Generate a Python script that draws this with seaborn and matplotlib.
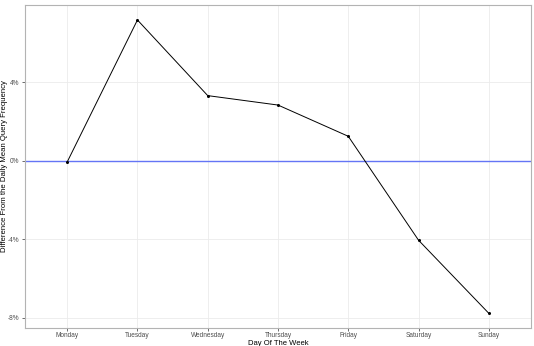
import matplotlib
matplotlib.use("Agg")
import matplotlib.pyplot as plt
import seaborn as sns
import pandas as pd
from matplotlib.ticker import FuncFormatter

days = ["Monday", "Tuesday", "Wednesday", "Thursday", "Friday", "Saturday", "Sunday"]
diff_pct = [-0.07, 7.16, 3.31, 2.83, 1.24, -4.05, -7.77]
y_ticks = [-8, -4, 0, 4]

df = pd.DataFrame({"day": days, "diff": diff_pct})

sns.set_theme(style="white")
plt.rcParams['font.family'] = ['Liberation Sans', 'DejaVu Sans']

W, H = 534, 346
fig = plt.figure(figsize=(W/100, H/100), dpi=100)
ax = fig.add_axes([25/W, 1-328/H, (531-25)/W, (328-5.3)/H])

ax.axhline(0, color="#6475F5", lw=1.0, zorder=2)
sns.lineplot(data=df, x="day", y="diff", ax=ax, color="black", lw=0.7,
             marker="o", markersize=2.2, markeredgewidth=0, sort=False, zorder=3)

ax.set_xlim(-0.6, 6.6)
lo, hi = min(diff_pct), max(diff_pct)
pad = (hi - lo) * 0.05
ax.set_ylim(lo - pad, hi + pad)
ax.set_yticks(y_ticks)
ax.yaxis.set_major_formatter(FuncFormatter(lambda v, p: f"{v:.0f}%"))

ax.grid(True, color="#EBEBEB", lw=0.6, zorder=0)
ax.set_axisbelow(True)
for s in ax.spines.values():
    s.set_color("#B3B3B3")
    s.set_linewidth(0.8)

ax.tick_params(axis="both", which="major", length=2.5, width=0.5, color="#333333",
               labelsize=4.7, labelcolor="#4D4D4D", pad=1.5, bottom=True, left=True)
ax.tick_params(axis="x", pad=0.4)
ax.set_xlabel("")
ax.set_ylabel("")
fig.text(278/W, 1-344.8/H, "Day Of The Week", fontsize=5.5, ha="center", va="baseline", color="black")
fig.text(4.2/W, 1-166/H, "Difference From the Daily Mean Query Frequency", fontsize=5.6,
         ha="center", va="center", rotation=90, color="black")

fig.savefig("out.png", dpi=100)
